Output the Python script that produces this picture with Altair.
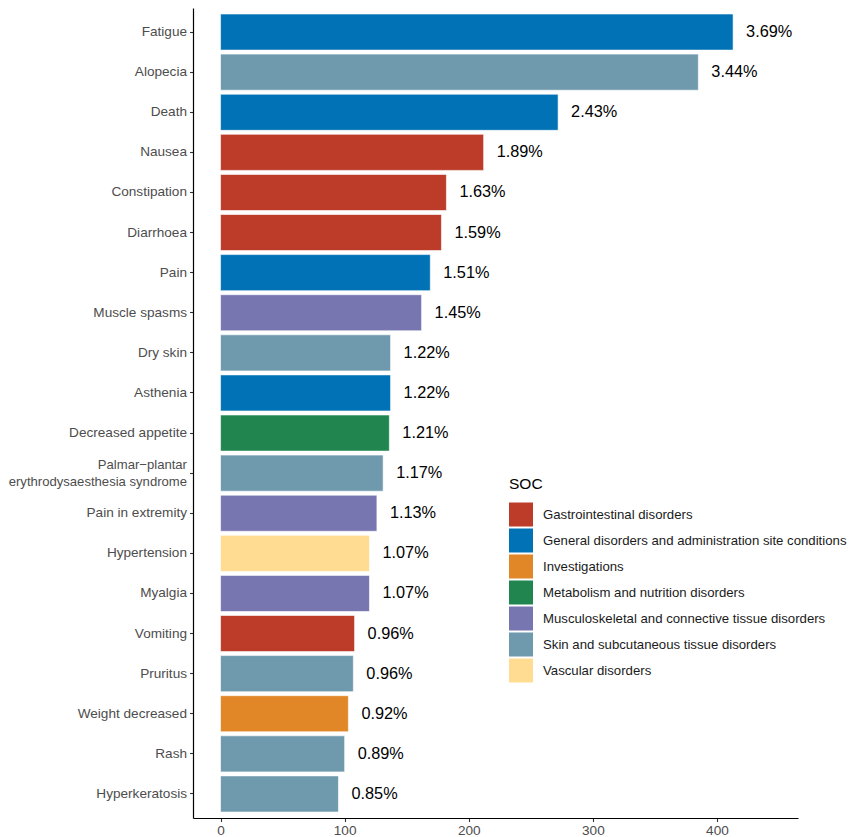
import altair as alt
import pandas as pd

terms = ["Fatigue", "Alopecia", "Death", "Nausea", "Constipation", "Diarrhoea", "Pain",
         "Muscle spasms", "Dry skin", "Asthenia", "Decreased appetite",
         "Palmar\u2212plantar |erythrodysaesthesia syndrome", "Pain in extremity",
         "Hypertension", "Myalgia", "Vomiting", "Pruritus", "Weight decreased", "Rash",
         "Hyperkeratosis"]
counts = [413, 385, 272, 212, 182, 178, 169, 162, 137, 137, 136, 131, 126, 120, 120,
          108, 107, 103, 100, 95]
pct_labels = ["3.69%", "3.44%", "2.43%", "1.89%", "1.63%", "1.59%", "1.51%", "1.45%",
              "1.22%", "1.22%", "1.21%", "1.17%", "1.13%", "1.07%", "1.07%", "0.96%",
              "0.96%", "0.92%", "0.89%", "0.85%"]
GI = "Gastrointestinal disorders"
GEN = "General disorders and administration site conditions"
INV = "Investigations"
MET = "Metabolism and nutrition disorders"
MSK = "Musculoskeletal and connective tissue disorders"
SKIN = "Skin and subcutaneous tissue disorders"
VAS = "Vascular disorders"
soc = [GEN, SKIN, GEN, GI, GI, GI, GEN, MSK, SKIN, GEN, MET, SKIN, MSK, VAS, MSK, GI,
       SKIN, INV, SKIN, SKIN]
soc_order = [GI, GEN, INV, MET, MSK, SKIN, VAS]
soc_colors = ["#BC3C29", "#0072B5", "#E18727", "#20854E", "#7876B1", "#6F99AD", "#FFDC91"]

df = pd.DataFrame({"term": terms, "count": counts, "pct": pct_labels, "SOC": soc})

FONT = "Liberation Sans"
multi = "indexof(datum.value, '|') >= 0"

y_enc = alt.Y("term:N", sort=terms,
              scale=alt.Scale(paddingInner=0.1, paddingOuter=0.15),
              axis=alt.Axis(title=None, labelExpr="split(datum.value, '|')",
                            labelFontSize={"condition": {"test": multi, "value": 13.1},
                                           "value": 13.6},
                            labelColor="#4D4D4D", labelFont=FONT,
                            labelLineHeight=16.5,
                            labelOffset={"condition": {"test": multi, "value": -8},
                                         "value": 0},
                            labelPadding=3, tickSize=3.5,
                            tickColor="#333333", tickWidth=1.1, domainColor="black",
                            domainWidth=1.2, grid=False, labelLimit=300))
x_scale = alt.Scale(domain=[-22.2, 465.3], nice=False, zero=False)

bars = alt.Chart(df).mark_bar(stroke="white", strokeWidth=0.6).encode(
    x=alt.X("count:Q", scale=x_scale,
            axis=alt.Axis(title=None, values=[0, 100, 200, 300, 400], labelFontSize=13.6,
                          labelColor="#4D4D4D", labelFont=FONT, tickSize=3.5,
                          tickColor="#333333", tickWidth=1.1, domainColor="black",
                          domainWidth=1.2, grid=False, labelPadding=2)),
    x2=alt.datum(0),
    y=y_enc,
    color=alt.Color("SOC:N", scale=alt.Scale(domain=soc_order, range=soc_colors),
                    legend=alt.Legend(title="SOC", orient="none", legendX=316,
                                      legendY=469, padding=0, titleFontSize=15.5,
                                      titleFontWeight="normal", titleColor="black",
                                      titleFont=FONT, titlePadding=10,
                                      symbolType="square", symbolSize=576,
                                      symbolStrokeWidth=0, rowPadding=2,
                                      labelOffset=10, labelFontSize=13.2,
                                      labelColor="#1A1A1A", labelFont=FONT,
                                      labelLimit=400)),
)

texts = alt.Chart(df).mark_text(align="left", baseline="middle", dx=13, fontSize=16.3,
                                font=FONT, color="black").encode(
    x=alt.X("count:Q", scale=x_scale),
    y=alt.Y("term:N", sort=terms),
    text="pct:N",
)

chart = (bars + texts).properties(
    width=605, height=810,
    autosize=alt.AutoSizeParams(type="none"),
    padding={"left": 185, "top": 0, "right": 52, "bottom": 30},
).configure_view(stroke=None)

chart.save("out.html", embed_options={"renderer": "svg", "actions": False})
